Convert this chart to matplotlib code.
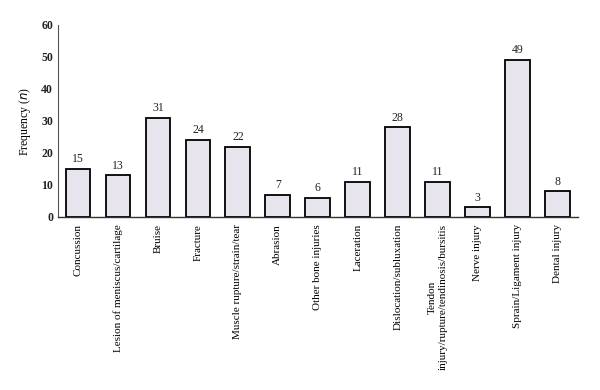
import matplotlib
matplotlib.use("Agg")
import matplotlib.pyplot as plt

# injury types and counts
categories = [
    "Concussion",
    "Lesion of meniscus/cartilage",
    "Bruise",
    "Fracture",
    "Muscle rupture/strain/tear",
    "Abrasion",
    "Other bone injuries",
    "Laceration",
    "Dislocation/subluxation",
    "Tendon\ninjury/rupture/tendinosis/bursitis",
    "Nerve injury",
    "Sprain/Ligament injury",
    "Dental injury",
]
counts = [15, 13, 31, 24, 22, 7, 6, 11, 28, 11, 3, 49, 8]
yticks = [0, 10, 20, 30, 40, 50, 60]

plt.rcParams['font.family'] = ['Liberation Serif', 'DejaVu Serif']

fig = plt.figure(figsize=(6, 3.9), dpi=100)
ax = fig.add_axes([0.0967, 0.4436, 0.866, 0.4924])

x = list(range(len(categories)))
ax.bar(x, counts, width=0.62, color='#e8e4ee', edgecolor='black', linewidth=1.3)

for xi, v in zip(x, counts):
    ax.text(xi, v + 1.2, str(v), ha='center', va='bottom', fontsize=8.5, color='#222222')

ax.set_xlim(-0.5, 12.5)
ax.set_ylim(0, 60)
ax.set_yticks(yticks)
ax.set_yticklabels([str(t) for t in yticks], fontsize=8.5, fontweight='bold', color='#222222')
ax.set_xticks(x)
ax.set_xticklabels(categories, rotation=90, fontsize=8, ha='center', va='top',
                   multialignment='center')
ax.tick_params(axis='y', length=0, pad=3.5)
ax.tick_params(axis='x', length=0, pad=5)

ax.set_ylabel('Frequency ($\\it{n}$)', fontsize=8.5, labelpad=6)

for s in ['top', 'right']:
    ax.spines[s].set_visible(False)
ax.spines['left'].set_color('#555555')
ax.spines['left'].set_linewidth(0.8)
ax.spines['bottom'].set_color('#333333')
ax.spines['bottom'].set_linewidth(1.0)

fig.savefig('out.png', dpi=100)
